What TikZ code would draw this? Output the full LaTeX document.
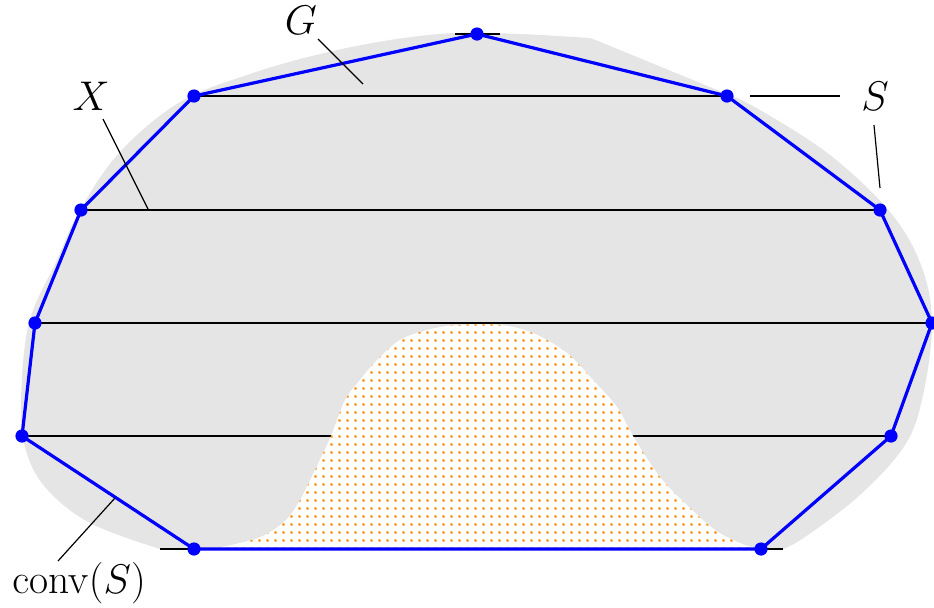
\documentclass[tikz,border=0pt]{standalone}
\usetikzlibrary{patterns.meta}
\definecolor{dotorange}{RGB}{255,136,0}
\definecolor{blobgray}{RGB}{229,229,229}
\tikzdeclarepattern{
  name=odots,
  type=uncolored,
  bottom left={(0pt,0pt)},
  top right={(4pt,4pt)},
  tile size={(4pt,4pt)},
  code={\pgfpathrectangle{\pgfqpoint{1.35pt}{1.35pt}}{\pgfqpoint{1.3pt}{1.3pt}}\pgfusepath{fill}}
}
\begin{document}
\begin{tikzpicture}[x=0.5pt,y=-0.5pt,
  chord/.style={line width=1.35pt, black},
  hull/.style={line width=1.6pt, blue, line join=round},
  ptdot/.style={circle, fill=blue, inner sep=0pt, minimum size=6.6pt},
  leader/.style={line width=0.6pt, black},
  lbl/.style={font=\fontsize{20.5}{24}\selectfont, inner sep=0pt},
  blob/.style={fill=blobgray},
  hole/.style={preaction={fill=white}, pattern=odots, pattern color=dotorange}]
\useasboundingbox (0,0) rectangle (934,607);

% points of S
\coordinate (p1) at (477,34);
\coordinate (p2) at (727,96);
\coordinate (p3) at (880,210);
\coordinate (p4) at (932,323);
\coordinate (p5) at (891,436);
\coordinate (p6) at (761,549);
\coordinate (p7) at (194,549);
\coordinate (p8) at (22,436);
\coordinate (p9) at (35,323);
\coordinate (p10) at (81,210);
\coordinate (p11) at (194,96);

% gray region G
\fill[blob] (160,549) -- (783,549) -- plot[smooth,tension=0.6] coordinates {(783,549) (805,537) (860,495) (905,445) (923,395) (932,323) (921,265) (890,212) (830,155) (760,110) (727,94)} -- (598,41) -- plot[smooth,tension=0.6] coordinates {(590,38) (520,34) (455,33) (390,40) (320,54) (250,74) (180,102) (120,152) (80,210) (57,260) (29,323) (21,400) (25,447) (45,487) (90,523) (160,549)} -- cycle;

% chord through the hole
\draw[chord] (p8) -- (p5);

% hole
\path[hole] plot[smooth,tension=0.55] coordinates {(212,549) (258,538) (285,521) (300,500) (315,470) (331,436) (345,400) (360,380) (377,360) (400,340) (427,330) (457,325) (500,325) (533,333) (567,353) (593,380) (617,407) (633,436) (660,477) (690,508) (718,532) (748,546) (768,549)} -- cycle;

% other chords
\coordinate (t1) at (455,34);
\coordinate (t2) at (500,34);
\draw[chord] (t1) -- (t2);
\draw[chord] (p11) -- (p2);
\draw[chord] (p10) -- (p3);
\draw[chord] (p9) -- (p4);
\coordinate (b1) at (160,549);
\coordinate (b2) at (783,549);
\draw[chord] (b1) -- (b2);

% convex hull
\draw[hull] (p1) -- (p2) -- (p3) -- (p4) -- (p5) -- (p6) -- (p7) -- (p8) -- (p9) -- (p10) -- (p11) -- cycle;
\foreach \i in {1,...,11} \node[ptdot] (d\i) at (p\i) {};

% labels
\node[lbl] (G) at (301,20) {$G$};
\node[lbl] (X) at (91,96) {$X$};
\node[lbl] (S) at (875,96) {$S$};
\node[lbl] (C) at (79,583) {$\mathrm{conv}(S)$};

% leaders
\coordinate (g1) at (318,39);  \coordinate (g2) at (363,84);
\coordinate (x1) at (103,119); \coordinate (x2) at (148,209);
\coordinate (s1) at (750,96);  \coordinate (s2) at (840,96);
\coordinate (s3) at (874,125); \coordinate (s4) at (880,188);
\coordinate (c1) at (58,561);  \coordinate (c2) at (115,498);
\draw[leader] (g1) -- (g2);
\draw[leader] (x1) -- (x2);
\draw[leader] (s1) -- (s2);
\draw[leader] (s3) -- (s4);
\draw[leader] (c1) -- (c2);
\end{tikzpicture}
\end{document}
